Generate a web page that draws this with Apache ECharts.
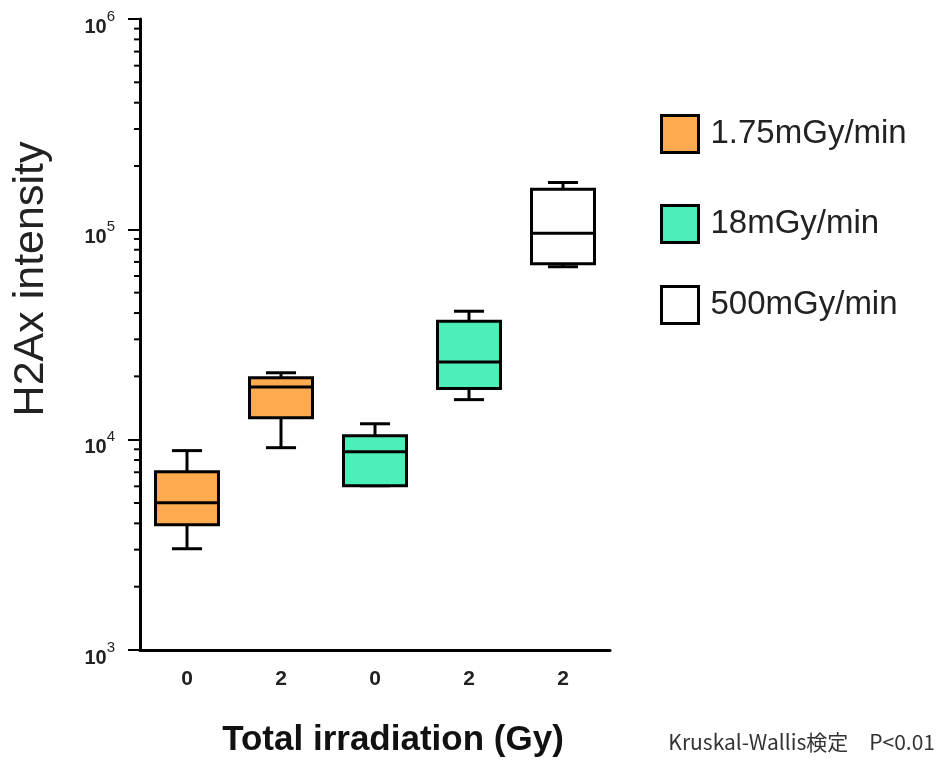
<!DOCTYPE html>
<html>
<head>
<meta charset="utf-8">
<title>H2Ax intensity by total irradiation</title>
<script src="https://cdn.jsdelivr.net/npm/echarts@6/dist/echarts.min.js"></script>
<style>
  html, body { margin: 0; padding: 0; background: #fff; }
  #chart { width: 942px; height: 767px; }
</style>
</head>
<body>
<div id="chart"></div>
<script>
// Category tick labels (total irradiation, Gy) for the five box positions
const doseLabels = ['0', '2', '0', '2', '2'];

// Dose-rate groups shown in the legend
const rateNames = ['1.75mGy/min', '18mGy/min', '500mGy/min'];
const rateColors = ['#FDAB4E', '#4CEFBA', '#FFFFFF'];

// Box statistics per group: [position index, min, Q1, median, Q3, max]
const rate175 = [
  [0, 3030, 3940, 5010, 7040, 8870],
  [1, 9160, 12700, 17800, 19700, 20800]
];
const rate18 = [
  [2, 6040, 6040, 8770, 10450, 11900],
  [3, 15500, 17500, 23400, 36600, 40800]
];
const rate500 = [
  [4, 66400, 68700, 95700, 155000, 167000]
];

// Minor tick values of the log axis (2..9 within each decade)
const minorTickValues = [];
[1e3, 1e4, 1e5].forEach(function (d) {
  for (let m = 2; m <= 9; m++) minorTickValues.push(m * d);
});

const chart = echarts.init(document.getElementById('chart'), null, { renderer: 'canvas' });

function renderBox(params, api) {
  const x = api.value(0);
  const pMin = api.coord([x, api.value(1)]);
  const yQ1 = api.coord([x, api.value(2)])[1];
  const yMed = api.coord([x, api.value(3)])[1];
  const yQ3 = api.coord([x, api.value(4)])[1];
  const yMax = api.coord([x, api.value(5)])[1];
  const cx = pMin[0];
  const yMin = pMin[1];
  const band = api.size([1, 0])[0];
  const halfBox = band * 0.335;
  const halfCap = band * 0.16;
  const lineStyle = { stroke: '#000', lineWidth: 3, lineCap: 'butt' };
  return {
    type: 'group',
    children: [
      { type: 'line', shape: { x1: cx, y1: yQ3, x2: cx, y2: yMax }, style: lineStyle },
      { type: 'line', shape: { x1: cx, y1: yQ1, x2: cx, y2: yMin }, style: lineStyle },
      { type: 'line', shape: { x1: cx - halfCap, y1: yMax, x2: cx + halfCap, y2: yMax }, style: lineStyle },
      { type: 'line', shape: { x1: cx - halfCap, y1: yMin, x2: cx + halfCap, y2: yMin }, style: lineStyle },
      {
        type: 'rect',
        shape: { x: cx - halfBox, y: yQ3, width: halfBox * 2, height: yQ1 - yQ3 },
        style: { fill: api.visual('color'), stroke: '#000', lineWidth: 3, lineJoin: 'miter' }
      },
      { type: 'line', shape: { x1: cx - halfBox, y1: yMed, x2: cx + halfBox, y2: yMed }, style: lineStyle }
    ]
  };
}

function renderMinorTick(params, api) {
  const y = api.coord([0, api.value(0)])[1];
  const x0 = params.coordSys.x;
  return {
    type: 'line',
    shape: { x1: x0 - 6, y1: y, x2: x0, y2: y },
    style: { stroke: '#000', lineWidth: 2 }
  };
}

function legendAt(name, top) {
  return {
    data: [name],
    left: 660,
    top: top,
    padding: 0,
    icon: 'rect',
    itemWidth: 37,
    itemHeight: 37,
    selectedMode: false,
    itemStyle: { borderColor: '#000', borderWidth: 3 },
    textStyle: {
      fontFamily: 'Liberation Sans, Arial, sans-serif',
      fontSize: 33,
      color: '#222',
      padding: [0, 0, 0, 7]
    }
  };
}

const option = {
  backgroundColor: '#fff',
  animation: false,
  grid: { left: 140, right: 332, top: 19, bottom: 117 },
  legend: [
    legendAt(rateNames[0], 114),
    legendAt(rateNames[1], 204),
    legendAt(rateNames[2], 285)
  ],
  xAxis: {
    type: 'category',
    data: doseLabels.map(function (d, i) { return 'p' + i; }),
    boundaryGap: true,
    name: 'Total irradiation (Gy)',
    nameLocation: 'middle',
    nameGap: 73,
    nameTextStyle: {
      fontFamily: 'Liberation Sans, Arial, sans-serif',
      fontWeight: 'bold',
      fontSize: 35,
      color: '#111',
      padding: [0, 0, 0, 36]
    },
    axisLine: { lineStyle: { color: '#000', width: 3 } },
    axisTick: { alignWithLabel: true, length: 8, lineStyle: { color: '#000', width: 2 } },
    axisLabel: {
      margin: 19,
      fontFamily: 'Liberation Sans, Arial, sans-serif',
      fontWeight: 'bold',
      fontSize: 21,
      color: '#222',
      formatter: function (v, i) { return doseLabels[i]; }
    },
    splitLine: { show: false }
  },
  yAxis: {
    type: 'log',
    logBase: 10,
    min: 1000,
    max: 1000000,
    name: 'H2Ax intensity',
    nameLocation: 'middle',
    nameRotate: 90,
    nameGap: 87,
    nameTextStyle: {
      fontFamily: 'Liberation Sans, Arial, sans-serif',
      fontSize: 43,
      color: '#222',
      padding: [0, 0, 0, 111]
    },
    axisLine: { show: true, lineStyle: { color: '#000', width: 3 } },
    axisTick: { show: true, length: 12, lineStyle: { color: '#000', width: 2 } },
    splitLine: { show: false },
    axisLabel: {
      margin: 25,
      formatter: function (v) {
        const e = Math.round(Math.log10(v));
        return '{base|10}{sup|' + e + '}';
      },
      rich: {
        base: {
          fontFamily: 'Liberation Sans, Arial, sans-serif',
          fontWeight: 'bold',
          fontSize: 20,
          color: '#222',
          lineHeight: 20,
          verticalAlign: 'top',
          padding: [8, 0, 10, 0]
        },
        sup: {
          fontFamily: 'Liberation Sans, Arial, sans-serif',
          fontSize: 15,
          color: '#222',
          lineHeight: 15,
          verticalAlign: 'top',
          padding: [0, 0, 0, 0]
        }
      }
    }
  },
  graphic: [
    {
      type: 'text',
      right: 7,
      top: 732,
      style: {
        text: 'Kruskal-Wallis検定　P<0.01',
        font: '21px "Noto Sans CJK JP", sans-serif',
        fill: '#333'
      }
    }
  ],
  series: [
    {
      name: 'minor ticks',
      type: 'custom',
      clip: false,
      silent: true,
      renderItem: renderMinorTick,
      data: minorTickValues.map(function (v) { return [v]; }),
      encode: { y: 0 }
    },
    {
      name: rateNames[0],
      type: 'custom',
      renderItem: renderBox,
      itemStyle: { color: rateColors[0], borderColor: '#000', borderWidth: 3 },
      encode: { x: 0, y: [1, 2, 3, 4, 5] },
      data: rate175
    },
    {
      name: rateNames[1],
      type: 'custom',
      renderItem: renderBox,
      itemStyle: { color: rateColors[1], borderColor: '#000', borderWidth: 3 },
      encode: { x: 0, y: [1, 2, 3, 4, 5] },
      data: rate18
    },
    {
      name: rateNames[2],
      type: 'custom',
      renderItem: renderBox,
      itemStyle: { color: rateColors[2], borderColor: '#000', borderWidth: 3 },
      encode: { x: 0, y: [1, 2, 3, 4, 5] },
      data: rate500
    }
  ]
};

chart.setOption(option);
</script>
</body>
</html>
